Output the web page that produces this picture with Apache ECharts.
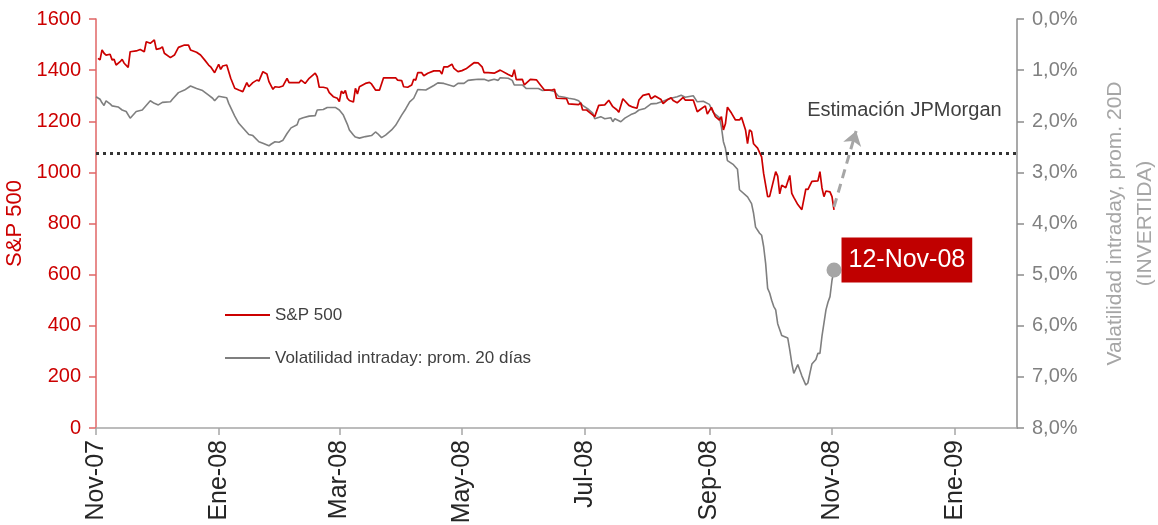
<!DOCTYPE html>
<html>
<head>
<meta charset="utf-8">
<script src="https://cdn.jsdelivr.net/npm/echarts@6/dist/echarts.min.js"></script>
<style>
html,body{margin:0;padding:0;background:#fff;}
#chart{width:1158px;height:525px;}
</style>
</head>
<body>
<div id="chart"></div>
<script>
// ---- data ----
const spxDates = ['2007-11-02','2007-11-03','2007-11-04','2007-11-05','2007-11-06','2007-11-08','2007-11-09','2007-11-10','2007-11-11','2007-11-13','2007-11-14','2007-11-15','2007-11-17','2007-11-18','2007-11-21','2007-11-23','2007-11-25','2007-11-26','2007-11-28','2007-11-30','2007-12-01','2007-12-03','2007-12-04','2007-12-05','2007-12-08','2007-12-10','2007-12-12','2007-12-15','2007-12-17','2007-12-18','2007-12-21','2007-12-23','2007-12-25','2007-12-27','2007-12-28','2007-12-30','2008-01-01','2008-01-02','2008-01-03','2008-01-05','2008-01-07','2008-01-09','2008-01-11','2008-01-13','2008-01-15','2008-01-16','2008-01-18','2008-01-20','2008-01-21','2008-01-23','2008-01-25','2008-01-26','2008-01-28','2008-01-29','2008-01-31','2008-02-02','2008-02-04','2008-02-05','2008-02-08','2008-02-10','2008-02-11','2008-02-13','2008-02-15','2008-02-18','2008-02-19','2008-02-20','2008-02-22','2008-02-24','2008-02-25','2008-02-27','2008-02-29','2008-03-01','2008-03-02','2008-03-03','2008-03-04','2008-03-05','2008-03-06','2008-03-08','2008-03-09','2008-03-10','2008-03-11','2008-03-14','2008-03-16','2008-03-17','2008-03-19','2008-03-21','2008-03-23','2008-03-27','2008-03-29','2008-03-30','2008-04-01','2008-04-02','2008-04-04','2008-04-06','2008-04-07','2008-04-08','2008-04-09','2008-04-11','2008-04-12','2008-04-14','2008-04-17','2008-04-20','2008-04-21','2008-04-22','2008-04-24','2008-04-26','2008-04-27','2008-04-29','2008-05-01','2008-05-03','2008-05-06','2008-05-07','2008-05-09','2008-05-11','2008-05-12','2008-05-14','2008-05-17','2008-05-20','2008-05-24','2008-05-26','2008-05-27','2008-05-28','2008-05-31','2008-06-01','2008-06-04','2008-06-07','2008-06-09','2008-06-11','2008-06-15','2008-06-16','2008-06-17','2008-06-22','2008-06-23','2008-06-28','2008-06-29','2008-06-30','2008-07-02','2008-07-04','2008-07-06','2008-07-08','2008-07-11','2008-07-13','2008-07-15','2008-07-17','2008-07-18','2008-07-20','2008-07-23','2008-07-25','2008-07-27','2008-07-28','2008-07-30','2008-08-02','2008-08-03','2008-08-05','2008-08-08','2008-08-09','2008-08-11','2008-08-13','2008-08-14','2008-08-16','2008-08-19','2008-08-20','2008-08-24','2008-08-26','2008-08-28','2008-08-30','2008-08-31','2008-09-02','2008-09-04','2008-09-06','2008-09-07','2008-09-08','2008-09-09','2008-09-10','2008-09-12','2008-09-14','2008-09-16','2008-09-17','2008-09-19','2008-09-20','2008-09-21','2008-09-22','2008-09-23','2008-09-25','2008-09-27','2008-09-28','2008-09-30','2008-10-01','2008-10-04','2008-10-05','2008-10-06','2008-10-07','2008-10-09','2008-10-11','2008-10-12','2008-10-13','2008-10-15','2008-10-17','2008-10-19','2008-10-20','2008-10-22','2008-10-25','2008-10-26','2008-10-27','2008-10-28','2008-10-29','2008-10-31','2008-11-01','2008-11-02'];
const spxValues = [1446,1440,1479,1466,1459,1462,1440,1442,1420,1433,1442,1427,1411,1472,1475,1481,1472,1511,1505,1518,1481,1485,1491,1466,1449,1459,1489,1498,1498,1479,1470,1459,1440,1420,1413,1390,1423,1403,1416,1420,1368,1329,1322,1316,1351,1335,1351,1361,1357,1394,1385,1355,1325,1335,1333,1338,1368,1351,1351,1351,1361,1348,1368,1388,1374,1333,1333,1329,1312,1296,1290,1277,1318,1309,1320,1290,1281,1275,1329,1307,1335,1348,1352,1346,1322,1322,1370,1370,1370,1361,1359,1335,1333,1342,1364,1361,1390,1390,1378,1388,1397,1397,1385,1413,1413,1423,1407,1394,1398,1405,1423,1429,1428,1413,1390,1390,1388,1400,1383,1375,1402,1363,1364,1342,1364,1362,1342,1322,1323,1325,1290,1288,1268,1265,1272,1244,1244,1231,1218,1262,1264,1282,1257,1245,1235,1288,1262,1255,1251,1283,1301,1307,1288,1299,1285,1269,1283,1292,1281,1272,1293,1283,1283,1237,1249,1260,1228,1254,1218,1205,1218,1166,1190,1255,1232,1205,1205,1216,1166,1112,1166,1159,1112,1095,1061,996,905,906,1003,985,916,950,940,988,918,902,874,854,935,933,965,967,1003,940,905,927,924,905,853];

const volDates = ['2007-11-01','2007-11-03','2007-11-04','2007-11-05','2007-11-06','2007-11-08','2007-11-09','2007-11-12','2007-11-14','2007-11-16','2007-11-18','2007-11-21','2007-11-24','2007-11-28','2007-11-30','2007-12-02','2007-12-04','2007-12-08','2007-12-09','2007-12-12','2007-12-15','2007-12-18','2007-12-21','2007-12-24','2007-12-27','2007-12-29','2007-12-30','2008-01-01','2008-01-05','2008-01-06','2008-01-09','2008-01-11','2008-01-14','2008-01-16','2008-01-18','2008-01-21','2008-01-23','2008-01-26','2008-01-27','2008-01-29','2008-01-31','2008-02-02','2008-02-04','2008-02-06','2008-02-09','2008-02-10','2008-02-12','2008-02-15','2008-02-18','2008-02-19','2008-02-22','2008-02-24','2008-02-28','2008-03-01','2008-03-03','2008-03-05','2008-03-06','2008-03-08','2008-03-09','2008-03-11','2008-03-14','2008-03-17','2008-03-19','2008-03-20','2008-03-22','2008-03-24','2008-03-27','2008-03-29','2008-04-01','2008-04-03','2008-04-05','2008-04-07','2008-04-09','2008-04-13','2008-04-17','2008-04-19','2008-04-22','2008-04-27','2008-04-29','2008-05-02','2008-05-04','2008-05-06','2008-05-09','2008-05-12','2008-05-14','2008-05-17','2008-05-19','2008-05-20','2008-05-24','2008-05-26','2008-05-27','2008-05-31','2008-06-02','2008-06-08','2008-06-10','2008-06-13','2008-06-16','2008-06-18','2008-06-21','2008-06-23','2008-06-26','2008-06-28','2008-06-30','2008-07-03','2008-07-05','2008-07-06','2008-07-09','2008-07-11','2008-07-14','2008-07-15','2008-07-16','2008-07-19','2008-07-21','2008-07-24','2008-07-26','2008-07-28','2008-07-31','2008-08-03','2008-08-06','2008-08-09','2008-08-12','2008-08-16','2008-08-18','2008-08-20','2008-08-24','2008-08-26','2008-08-29','2008-09-01','2008-09-03','2008-09-06','2008-09-07','2008-09-08','2008-09-09','2008-09-10','2008-09-13','2008-09-15','2008-09-16','2008-09-20','2008-09-22','2008-09-23','2008-09-24','2008-09-26','2008-09-27','2008-09-28','2008-09-29','2008-09-30','2008-10-01','2008-10-02','2008-10-03','2008-10-04','2008-10-05','2008-10-07','2008-10-10','2008-10-11','2008-10-12','2008-10-13','2008-10-15','2008-10-17','2008-10-19','2008-10-20','2008-10-21','2008-10-22','2008-10-24','2008-10-25','2008-10-26','2008-10-27','2008-10-29','2008-10-30','2008-10-31','2008-11-01','2008-11-02'];
const volValues = [1.52,1.57,1.64,1.69,1.60,1.66,1.70,1.72,1.78,1.81,1.94,1.81,1.78,1.60,1.65,1.68,1.63,1.62,1.57,1.44,1.39,1.31,1.36,1.40,1.49,1.55,1.60,1.51,1.54,1.65,1.90,2.04,2.17,2.26,2.28,2.40,2.43,2.48,2.45,2.40,2.41,2.37,2.24,2.13,2.07,1.96,1.93,1.90,1.89,1.78,1.77,1.73,1.73,1.78,1.88,2.06,2.17,2.27,2.31,2.33,2.30,2.28,2.21,2.24,2.32,2.27,2.17,2.08,1.88,1.76,1.62,1.55,1.38,1.39,1.30,1.25,1.26,1.32,1.26,1.26,1.20,1.19,1.18,1.18,1.21,1.18,1.20,1.15,1.16,1.20,1.29,1.29,1.36,1.36,1.40,1.39,1.42,1.51,1.53,1.55,1.57,1.60,1.69,1.77,1.84,1.95,1.91,1.95,1.93,2.01,1.95,2.01,1.94,1.87,1.84,1.78,1.75,1.66,1.65,1.61,1.56,1.52,1.49,1.53,1.50,1.62,1.61,1.67,1.83,1.93,2.11,2.40,2.53,2.77,2.85,2.94,3.34,3.48,3.61,3.80,4.07,4.19,4.23,4.45,4.78,5.27,5.36,5.50,5.62,5.69,5.96,6.19,6.24,6.47,6.73,6.93,6.76,6.98,7.16,7.12,6.93,6.75,6.66,6.54,6.54,6.21,5.69,5.54,5.43,5.11,4.91];

const seriesNames = ['S&P 500', 'Volatilidad intraday: prom. 20 días'];
const tickDates = ['2007-11-01','2008-01-01','2008-03-01','2008-05-01','2008-07-01','2008-09-01','2008-11-01','2009-01-01'];
const tickLabels = ['Nov-07','Ene-08','Mar-08','May-08','Jul-08','Sep-08','Nov-08','Ene-09'];
const xRange = ['2007-11-01','2009-02-01'];
const jpmLevel = 1075;                       // dotted reference line (S&P level)
const arrowFrom = ['2008-11-02', 865];        // dashed arrow start
const arrowTo = ['2008-11-13', 1162];         // dashed arrow tip
const noteAt = ['2008-12-07', 1244];          // "Estimación JPMorgan" text anchor
const noteText = 'Estimación JPMorgan';
const dotLabel = '12-Nov-08';

// ---- helpers ----
function toTs(s){ const p = s.split('-').map(Number); return Date.UTC(p[0], p[1]-1, p[2]); }
const spxData = spxDates.map((d,i)=>[toTs(d), spxValues[i]]);
const volData = volDates.map((d,i)=>[toTs(d), volValues[i]]);
const tickTs = tickDates.map(toTs);
const lastVol = volData[volData.length-1];

const FONT = 'Liberation Sans, Arial, sans-serif';
const RED = '#CC0000';
const GREY = '#808080';

const chart = echarts.init(document.getElementById('chart'), null, {renderer:'canvas'});
chart.setOption({
  animation: false,
  backgroundColor: '#ffffff',
  textStyle: { fontFamily: FONT },
  grid: { left: 96, right: 141, top: 19, bottom: 97, containLabel: false, outerBoundsMode: 'none' },
  legend: {
    left: 225, top: 305, orient: 'vertical', padding: 0,
    itemWidth: 45, itemHeight: 2, itemGap: 23,
    textStyle: { color: '#404040', fontSize: 17, fontFamily: FONT, lineHeight: 20 },
    data: [ { name: seriesNames[0], icon: 'rect' }, { name: seriesNames[1], icon: 'rect' } ]
  },
  xAxis: {
    type: 'value',
    min: toTs(xRange[0]), max: toTs(xRange[1]),
    axisLine: { show: true, lineStyle: { color: '#A6A6A6', width: 1.5 } },
    axisTick: { show: true, customValues: tickTs, length: 7, lineStyle: { color: '#A6A6A6', width: 1.5 } },
    axisLabel: {
      customValues: tickTs, rotate: 90, margin: 12,
      color: '#262626', fontSize: 25, fontFamily: FONT,
      formatter: function(v){ const i = tickTs.indexOf(v); return i >= 0 ? tickLabels[i] : ''; }
    },
    splitLine: { show: false }
  },
  yAxis: [
    {
      type: 'value', min: 0, max: 1600, interval: 200, position: 'left',
      name: 'S&P 500', nameLocation: 'middle', nameRotate: 90, nameGap: 50,
      nameTextStyle: { color: RED, fontSize: 22, fontFamily: FONT },
      axisLine: { show: true, lineStyle: { color: '#E06666', width: 1.5 } },
      axisTick: { show: true, length: 7, lineStyle: { color: '#E06666', width: 1.5 } },
      axisLabel: { color: RED, fontSize: 20, margin: 15, fontFamily: FONT,
        formatter: function(v){ return String(v); } },
      splitLine: { show: false }
    },
    {
      type: 'value', min: 0, max: 8, interval: 1, position: 'right', inverse: true,
      name: 'Valatilidad intraday, prom. 20D\n(INVERTIDA)', nameLocation: 'middle', nameRotate: 90, nameGap: 83,
      nameTextStyle: { color: '#A6A6A6', fontSize: 21, lineHeight: 30, fontFamily: FONT },
      axisLine: { show: true, lineStyle: { color: '#8C8C8C', width: 1.5 } },
      axisTick: { show: true, length: 7, lineStyle: { color: '#8C8C8C', width: 1.5 } },
      axisLabel: { color: GREY, fontSize: 20, margin: 15, fontFamily: FONT,
        formatter: function(v){ return v.toFixed(1).replace('.', ',') + '%'; } },
      splitLine: { show: false }
    }
  ],
  series: [
    {
      name: seriesNames[1], type: 'line', yAxisIndex: 1, data: volData,
      showSymbol: false, symbol: 'none', z: 2,
      lineStyle: { color: '#7F7F7F', width: 1.6 }, itemStyle: { color: '#7F7F7F' },
      markPoint: {
        silent: true, animation: false,
        data: [{
          coord: lastVol, symbol: 'circle', symbolSize: 15,
          itemStyle: { color: '#A6A6A6' },
          label: {
            show: true, formatter: dotLabel, position: 'right', distance: 0, offset: [0, -10],
            color: '#ffffff', backgroundColor: '#C00000', fontSize: 25, fontFamily: FONT,
            lineHeight: 30, padding: [8, 7, 7, 7]
          }
        }]
      }
    },
    {
      name: seriesNames[0], type: 'line', yAxisIndex: 0, data: spxData,
      showSymbol: false, symbol: 'none', z: 3,
      lineStyle: { color: RED, width: 1.7 }, itemStyle: { color: RED },
      markLine: {
        silent: true, animation: false, symbol: ['none', 'none'],
        label: { show: false },
        data: [
          { yAxis: jpmLevel, lineStyle: { color: '#333333', width: 3, type: [3, 4] } },
          [
            { coord: [toTs(arrowFrom[0]), arrowFrom[1]], symbol: 'none',
              lineStyle: { color: '#A6A6A6', width: 3, type: [9, 6] } },
            { coord: [toTs(arrowTo[0]), arrowTo[1]], symbol: 'arrow', symbolSize: 14 }
          ]
        ]
      },
      markPoint: {
        silent: true, animation: false,
        data: [{
          coord: [toTs(noteAt[0]), noteAt[1]], symbol: 'circle', symbolSize: 1,
          itemStyle: { color: 'rgba(0,0,0,0)' },
          label: { show: true, position: 'inside', formatter: noteText, color: '#404040', fontSize: 20, fontFamily: FONT }
        }]
      }
    }
  ]
});
</script>
</body>
</html>
